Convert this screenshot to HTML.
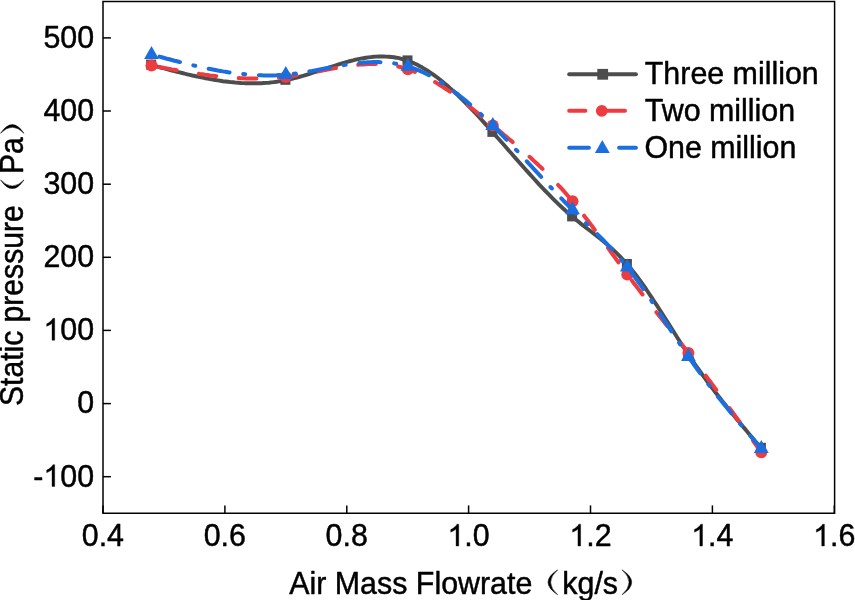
<!DOCTYPE html>
<html><head><meta charset="utf-8"><title>chart</title>
<style>
html,body{margin:0;padding:0;background:#fff;}
body{width:855px;height:600px;overflow:hidden;}
svg{display:block;}
text{font-family:"Liberation Sans",sans-serif;font-size:30.4px;fill:#000;stroke:#000;stroke-width:0.45px;stroke-linejoin:round;}
svg{will-change:transform;}
</style></head><body>
<svg width="855" height="600" viewBox="0 0 855 600">
<rect width="855" height="600" fill="#fff"/>
<!-- frame -->
<rect x="103.0" y="1.5" width="731.5999999999999" height="511.75" fill="none" stroke="#000" stroke-width="1.5"/>
<g stroke="#000" stroke-width="1.5"><line x1="103.0" y1="513.2" x2="103.0" y2="505.4"/><line x1="224.9" y1="513.2" x2="224.9" y2="505.4"/><line x1="346.8" y1="513.2" x2="346.8" y2="505.4"/><line x1="468.6" y1="513.2" x2="468.6" y2="505.4"/><line x1="590.5" y1="513.2" x2="590.5" y2="505.4"/><line x1="712.4" y1="513.2" x2="712.4" y2="505.4"/><line x1="834.3" y1="513.2" x2="834.3" y2="505.4"/><line x1="103.0" y1="37.9" x2="110.9" y2="37.9"/><line x1="103.0" y1="111.0" x2="110.9" y2="111.0"/><line x1="103.0" y1="184.2" x2="110.9" y2="184.2"/><line x1="103.0" y1="257.3" x2="110.9" y2="257.3"/><line x1="103.0" y1="330.4" x2="110.9" y2="330.4"/><line x1="103.0" y1="403.6" x2="110.9" y2="403.6"/><line x1="103.0" y1="476.7" x2="110.9" y2="476.7"/></g>
<g><text transform="translate(81.77,546.0) scale(1,1.045)">0.4</text><text transform="translate(203.65,546.0) scale(1,1.045)">0.6</text><text transform="translate(325.54,546.0) scale(1,1.045)">0.8</text><path transform="translate(447.42,546.0) scale(0.01484,-0.01487)" d="M763,0 H583 V1147 Q518,1085 412.5,1023 T223,930 V1104 Q373,1174.5 485.5,1275 T644,1470 H763 Z" fill="#000" stroke="#000" stroke-width="24"/><text transform="translate(464.33,546.0) scale(1,1.045)">.0</text><path transform="translate(569.30,546.0) scale(0.01484,-0.01487)" d="M763,0 H583 V1147 Q518,1085 412.5,1023 T223,930 V1104 Q373,1174.5 485.5,1275 T644,1470 H763 Z" fill="#000" stroke="#000" stroke-width="24"/><text transform="translate(586.21,546.0) scale(1,1.045)">.2</text><path transform="translate(691.19,546.0) scale(0.01484,-0.01487)" d="M763,0 H583 V1147 Q518,1085 412.5,1023 T223,930 V1104 Q373,1174.5 485.5,1275 T644,1470 H763 Z" fill="#000" stroke="#000" stroke-width="24"/><text transform="translate(708.09,546.0) scale(1,1.045)">.4</text><path transform="translate(813.07,546.0) scale(0.01484,-0.01487)" d="M763,0 H583 V1147 Q518,1085 412.5,1023 T223,930 V1104 Q373,1174.5 485.5,1275 T644,1470 H763 Z" fill="#000" stroke="#000" stroke-width="24"/><text transform="translate(829.98,546.0) scale(1,1.045)">.6</text><text transform="translate(43.38,47.7) scale(1,1.045)">500</text><text transform="translate(43.38,120.8) scale(1,1.045)">400</text><text transform="translate(43.38,194.0) scale(1,1.045)">300</text><text transform="translate(43.38,267.1) scale(1,1.045)">200</text><path transform="translate(43.38,340.2) scale(0.01484,-0.01487)" d="M763,0 H583 V1147 Q518,1085 412.5,1023 T223,930 V1104 Q373,1174.5 485.5,1275 T644,1470 H763 Z" fill="#000" stroke="#000" stroke-width="24"/><text transform="translate(60.29,340.2) scale(1,1.045)">00</text><text transform="translate(77.19,413.4) scale(1,1.045)">0</text><text transform="translate(33.26,486.5) scale(1,1.045)">-</text><path transform="translate(43.38,486.5) scale(0.01484,-0.01487)" d="M763,0 H583 V1147 Q518,1085 412.5,1023 T223,930 V1104 Q373,1174.5 485.5,1275 T644,1470 H763 Z" fill="#000" stroke="#000" stroke-width="24"/><text transform="translate(60.29,486.5) scale(1,1.045)">00</text></g>
<!-- series -->
<g fill="none" stroke-width="3.9" stroke-linecap="round" stroke-linejoin="round">
<path d="M151.5,65.0 L154.1,65.7 L156.6,66.4 L159.2,67.1 L161.7,67.8 L164.3,68.4 L166.8,69.1 L169.4,69.8 L171.9,70.5 L174.5,71.1 L177.0,71.8 L179.6,72.4 L182.1,73.0 L184.7,73.7 L187.2,74.3 L189.8,74.9 L192.3,75.5 L194.9,76.0 L197.4,76.6 L200.0,77.1 L202.5,77.7 L205.1,78.2 L207.6,78.6 L210.2,79.1 L212.7,79.6 L215.3,80.0 L217.8,80.4 L220.4,80.8 L222.9,81.2 L225.5,81.5 L228.0,81.8 L230.6,82.1 L233.1,82.3 L235.7,82.6 L238.2,82.8 L240.8,83.0 L243.4,83.1 L245.9,83.2 L248.5,83.3 L251.0,83.3 L253.6,83.3 L256.1,83.3 L258.7,83.3 L261.2,83.2 L263.8,83.0 L266.3,82.9 L268.9,82.7 L271.4,82.4 L274.0,82.1 L276.5,81.8 L279.1,81.4 L281.6,81.0 L284.2,80.5 L286.7,80.0 L289.3,79.5 L291.8,78.9 L294.4,78.2 L296.9,77.6 L299.5,76.9 L302.0,76.1 L304.6,75.4 L307.1,74.6 L309.7,73.8 L312.2,73.0 L314.8,72.2 L317.3,71.3 L319.9,70.5 L322.4,69.6 L325.0,68.8 L327.6,68.0 L330.1,67.1 L332.7,66.3 L335.2,65.5 L337.8,64.7 L340.3,63.9 L342.9,63.1 L345.4,62.4 L348.0,61.7 L350.5,61.0 L353.1,60.4 L355.6,59.7 L358.2,59.2 L360.7,58.7 L363.3,58.2 L365.8,57.8 L368.4,57.4 L370.9,57.1 L373.5,56.8 L376.0,56.6 L378.6,56.5 L381.1,56.4 L383.7,56.5 L386.2,56.6 L388.8,56.7 L391.3,57.0 L393.9,57.3 L396.4,57.7 L399.0,58.2 L401.5,58.9 L404.1,59.6 L406.6,60.4 L409.2,61.3 L411.7,62.3 L414.3,63.4 L416.9,64.6 L419.4,65.9 L422.0,67.3 L424.5,68.8 L427.1,70.4 L429.6,72.1 L432.2,73.8 L434.7,75.6 L437.3,77.5 L439.8,79.5 L442.4,81.6 L444.9,83.7 L447.5,85.8 L450.0,88.1 L452.6,90.4 L455.1,92.7 L457.7,95.1 L460.2,97.6 L462.8,100.1 L465.3,102.7 L467.9,105.3 L470.4,107.9 L473.0,110.6 L475.5,113.3 L478.1,116.0 L480.6,118.8 L483.2,121.6 L485.7,124.4 L488.3,127.2 L490.8,130.1 L493.4,133.0 L495.9,135.9 L498.5,138.8 L501.1,141.7 L503.6,144.6 L506.2,147.5 L508.7,150.4 L511.3,153.3 L513.8,156.2 L516.4,159.1 L518.9,162.0 L521.5,164.9 L524.0,167.7 L526.6,170.6 L529.1,173.4 L531.7,176.3 L534.2,179.0 L536.8,181.8 L539.3,184.6 L541.9,187.3 L544.4,190.0 L547.0,192.6 L549.5,195.2 L552.1,197.8 L554.6,200.3 L557.2,202.8 L559.7,205.3 L562.3,207.7 L564.8,210.0 L567.4,212.4 L569.9,214.6 L572.5,216.8 L575.0,218.9 L577.6,221.0 L580.1,223.1 L582.7,225.1 L585.2,227.1 L587.8,229.0 L590.4,231.0 L592.9,233.0 L595.5,235.0 L598.0,237.0 L600.6,239.0 L603.1,241.1 L605.7,243.2 L608.2,245.4 L610.8,247.7 L613.3,250.0 L615.9,252.4 L618.4,254.9 L621.0,257.5 L623.5,260.2 L626.1,263.0 L628.6,265.9 L631.2,269.0 L633.7,272.2 L636.3,275.5 L638.8,278.9 L641.4,282.5 L643.9,286.0 L646.5,289.7 L649.0,293.5 L651.6,297.3 L654.1,301.2 L656.7,305.1 L659.2,309.0 L661.8,313.0 L664.3,317.0 L666.9,321.1 L669.4,325.1 L672.0,329.1 L674.6,333.2 L677.1,337.2 L679.7,341.2 L682.2,345.2 L684.8,349.1 L687.3,353.0 L689.9,356.8 L692.4,360.5 L695.0,364.3 L697.5,367.9 L700.1,371.5 L702.6,375.1 L705.2,378.6 L707.7,382.1 L710.3,385.5 L712.8,388.9 L715.4,392.2 L717.9,395.5 L720.5,398.8 L723.0,402.1 L725.6,405.3 L728.1,408.5 L730.7,411.6 L733.2,414.8 L735.8,417.9 L738.3,421.0 L740.9,424.0 L743.4,427.1 L746.0,430.1 L748.5,433.2 L751.1,436.2 L753.6,439.2 L756.2,442.2 L758.7,445.2 L761.3,448.2" stroke="#4d4d4d" stroke-linecap="butt"/>
</g>
<rect x="146.1" y="59.6" width="10" height="10" fill="#4d4d4d"/><rect x="280.4" y="74.8" width="10" height="10" fill="#4d4d4d"/><rect x="402.5" y="55.4" width="10" height="10" fill="#4d4d4d"/><rect x="487.4" y="126.9" width="10" height="10" fill="#4d4d4d"/><rect x="567.1" y="211.4" width="10" height="10" fill="#4d4d4d"/><rect x="621.9" y="259.0" width="10" height="10" fill="#4d4d4d"/><rect x="683.0" y="349.2" width="10" height="10" fill="#4d4d4d"/><rect x="755.9" y="442.8" width="10" height="10" fill="#4d4d4d"/>
<g fill="none" stroke-width="4">
<path d="M151.5,65.6 L154.1,66.1 L156.6,66.5 L159.2,67.0 L161.7,67.5 L164.3,68.0 L166.8,68.4 L169.4,68.9 L171.9,69.4 L174.5,69.8 L177.0,70.3 L179.6,70.7 L182.1,71.1 L184.7,71.6 L187.2,72.0 L189.8,72.4 L192.3,72.8 L194.9,73.2 L197.4,73.6 L200.0,74.0 L202.5,74.3 L205.1,74.7 L207.6,75.0 L210.2,75.4 L212.7,75.7 L215.3,76.0 L217.8,76.3 L220.4,76.6 L222.9,76.8 L225.5,77.1 L228.0,77.3 L230.6,77.5 L233.1,77.7 L235.7,77.9 L238.2,78.1 L240.8,78.2 L243.4,78.3 L245.9,78.4 L248.5,78.5 L251.0,78.5 L253.6,78.6 L256.1,78.6 L258.7,78.6 L261.2,78.6 L263.8,78.5 L266.3,78.4 L268.9,78.3 L271.4,78.2 L274.0,78.0 L276.5,77.8 L279.1,77.6 L281.6,77.4 L284.2,77.1 L286.7,76.8 L289.3,76.5 L291.8,76.1 L294.4,75.7 L296.9,75.3 L299.5,74.9 L302.0,74.5 L304.6,74.0 L307.1,73.5 L309.7,73.0 L312.2,72.6 L314.8,72.1 L317.3,71.6 L319.9,71.1 L322.4,70.6 L325.0,70.1 L327.6,69.6 L330.1,69.1 L332.7,68.6 L335.2,68.1 L337.8,67.7 L340.3,67.2 L342.9,66.8 L345.4,66.4 L348.0,66.0 L350.5,65.7 L353.1,65.4 L355.6,65.1 L358.2,64.8 L360.7,64.6 L363.3,64.4 L365.8,64.2 L368.4,64.1 L370.9,64.1 L373.5,64.0 L376.0,64.0 L378.6,64.1 L381.1,64.2 L383.7,64.4 L386.2,64.6 L388.8,64.9 L391.3,65.3 L393.9,65.7 L396.4,66.2 L399.0,66.7 L401.5,67.3 L404.1,68.0 L406.6,68.8 L409.2,69.6 L411.7,70.6 L414.3,71.5 L416.9,72.6 L419.4,73.7 L422.0,74.9 L424.5,76.2 L427.1,77.5 L429.6,78.9 L432.2,80.3 L434.7,81.8 L437.3,83.4 L439.8,85.0 L442.4,86.6 L444.9,88.3 L447.5,90.0 L450.0,91.8 L452.6,93.6 L455.1,95.5 L457.7,97.4 L460.2,99.3 L462.8,101.2 L465.3,103.2 L467.9,105.2 L470.4,107.2 L473.0,109.3 L475.5,111.3 L478.1,113.4 L480.6,115.5 L483.2,117.6 L485.7,119.7 L488.3,121.8 L490.8,123.9 L493.4,126.0 L495.9,128.1 L498.5,130.2 L501.1,132.3 L503.6,134.5 L506.2,136.6 L508.7,138.7 L511.3,140.9 L513.8,143.0 L516.4,145.2 L518.9,147.4 L521.5,149.6 L524.0,151.9 L526.6,154.1 L529.1,156.4 L531.7,158.7 L534.2,161.1 L536.8,163.5 L539.3,165.9 L541.9,168.3 L544.4,170.8 L547.0,173.3 L549.5,175.9 L552.1,178.5 L554.6,181.1 L557.2,183.9 L559.7,186.6 L562.3,189.4 L564.8,192.3 L567.4,195.2 L569.9,198.2 L572.5,201.2 L575.0,204.3 L577.6,207.4 L580.1,210.6 L582.7,213.9 L585.2,217.2 L587.8,220.5 L590.4,223.9 L592.9,227.3 L595.5,230.8 L598.0,234.2 L600.6,237.7 L603.1,241.2 L605.7,244.7 L608.2,248.2 L610.8,251.8 L613.3,255.3 L615.9,258.8 L618.4,262.3 L621.0,265.8 L623.5,269.3 L626.1,272.7 L628.6,276.2 L631.2,279.6 L633.7,283.0 L636.3,286.3 L638.8,289.6 L641.4,293.0 L643.9,296.3 L646.5,299.5 L649.0,302.8 L651.6,306.1 L654.1,309.3 L656.7,312.5 L659.2,315.8 L661.8,319.0 L664.3,322.2 L666.9,325.5 L669.4,328.7 L672.0,331.9 L674.6,335.2 L677.1,338.4 L679.7,341.7 L682.2,344.9 L684.8,348.2 L687.3,351.5 L689.9,354.8 L692.4,358.1 L695.0,361.5 L697.5,364.8 L700.1,368.2 L702.6,371.6 L705.2,375.0 L707.7,378.4 L710.3,381.8 L712.8,385.3 L715.4,388.7 L717.9,392.2 L720.5,395.7 L723.0,399.2 L725.6,402.7 L728.1,406.2 L730.7,409.7 L733.2,413.2 L735.8,416.7 L738.3,420.2 L740.9,423.8 L743.4,427.3 L746.0,430.9 L748.5,434.4 L751.1,438.0 L753.6,441.5 L756.2,445.1 L758.7,448.6 L761.3,452.2" stroke="#ee3b40" stroke-dasharray="17.7,22.5" stroke-dashoffset="-7.8" stroke-linecap="round"/>
</g>
<circle cx="151.5" cy="65.6" r="6.0" fill="#ee3b40"/><circle cx="285.8" cy="76.9" r="6.0" fill="#ee3b40"/><circle cx="407.9" cy="69.2" r="6.0" fill="#ee3b40"/><circle cx="492.8" cy="125.5" r="6.0" fill="#ee3b40"/><circle cx="572.5" cy="201.2" r="6.0" fill="#ee3b40"/><circle cx="627.3" cy="274.4" r="6.0" fill="#ee3b40"/><circle cx="688.4" cy="352.9" r="6.0" fill="#ee3b40"/><circle cx="761.3" cy="452.2" r="6.0" fill="#ee3b40"/>
<g fill="none" stroke-width="4">
<path d="M151.5,54.6 L154.1,55.3 L156.6,55.9 L159.2,56.6 L161.7,57.3 L164.3,58.0 L166.8,58.7 L169.4,59.3 L171.9,60.0 L174.5,60.7 L177.0,61.3 L179.6,62.0 L182.1,62.6 L184.7,63.2 L187.2,63.9 L189.8,64.5 L192.3,65.1 L194.9,65.7 L197.4,66.3 L200.0,66.8 L202.5,67.4 L205.1,68.0 L207.6,68.5 L210.2,69.0 L212.7,69.5 L215.3,70.0 L217.8,70.5 L220.4,70.9 L222.9,71.4 L225.5,71.8 L228.0,72.2 L230.6,72.6 L233.1,72.9 L235.7,73.3 L238.2,73.6 L240.8,73.9 L243.4,74.1 L245.9,74.4 L248.5,74.6 L251.0,74.8 L253.6,75.0 L256.1,75.1 L258.7,75.2 L261.2,75.3 L263.8,75.4 L266.3,75.4 L268.9,75.4 L271.4,75.4 L274.0,75.4 L276.5,75.3 L279.1,75.1 L281.6,75.0 L284.2,74.8 L286.7,74.6 L289.3,74.3 L291.8,74.0 L294.4,73.7 L296.9,73.4 L299.5,73.0 L302.0,72.6 L304.6,72.2 L307.1,71.8 L309.7,71.3 L312.2,70.9 L314.8,70.4 L317.3,70.0 L319.9,69.5 L322.4,69.0 L325.0,68.5 L327.6,68.0 L330.1,67.5 L332.7,67.1 L335.2,66.6 L337.8,66.1 L340.3,65.7 L342.9,65.3 L345.4,64.8 L348.0,64.5 L350.5,64.1 L353.1,63.7 L355.6,63.4 L358.2,63.1 L360.7,62.9 L363.3,62.6 L365.8,62.4 L368.4,62.3 L370.9,62.2 L373.5,62.1 L376.0,62.1 L378.6,62.1 L381.1,62.2 L383.7,62.3 L386.2,62.5 L388.8,62.7 L391.3,63.0 L393.9,63.3 L396.4,63.8 L399.0,64.2 L401.5,64.8 L404.1,65.4 L406.6,66.1 L409.2,66.9 L411.7,67.7 L414.3,68.6 L416.9,69.6 L419.4,70.7 L422.0,71.8 L424.5,73.0 L427.1,74.3 L429.6,75.6 L432.2,77.0 L434.7,78.5 L437.3,80.0 L439.8,81.6 L442.4,83.2 L444.9,84.9 L447.5,86.7 L450.0,88.5 L452.6,90.3 L455.1,92.3 L457.7,94.2 L460.2,96.2 L462.8,98.3 L465.3,100.4 L467.9,102.6 L470.4,104.8 L473.0,107.0 L475.5,109.3 L478.1,111.6 L480.6,114.0 L483.2,116.3 L485.7,118.8 L488.3,121.2 L490.8,123.7 L493.4,126.3 L495.9,128.8 L498.5,131.4 L501.1,134.0 L503.6,136.6 L506.2,139.3 L508.7,142.0 L511.3,144.7 L513.8,147.4 L516.4,150.1 L518.9,152.8 L521.5,155.6 L524.0,158.3 L526.6,161.1 L529.1,163.9 L531.7,166.6 L534.2,169.4 L536.8,172.2 L539.3,174.9 L541.9,177.7 L544.4,180.5 L547.0,183.2 L549.5,186.0 L552.1,188.7 L554.6,191.4 L557.2,194.1 L559.7,196.8 L562.3,199.4 L564.8,202.1 L567.4,204.7 L569.9,207.3 L572.5,209.9 L575.0,212.4 L577.6,214.9 L580.1,217.4 L582.7,219.9 L585.2,222.4 L587.8,224.8 L590.4,227.3 L592.9,229.8 L595.5,232.3 L598.0,234.8 L600.6,237.4 L603.1,240.0 L605.7,242.6 L608.2,245.3 L610.8,248.0 L613.3,250.8 L615.9,253.6 L618.4,256.5 L621.0,259.5 L623.5,262.5 L626.1,265.6 L628.6,268.8 L631.2,272.1 L633.7,275.5 L636.3,279.0 L638.8,282.5 L641.4,286.1 L643.9,289.8 L646.5,293.5 L649.0,297.2 L651.6,301.0 L654.1,304.8 L656.7,308.7 L659.2,312.6 L661.8,316.5 L664.3,320.4 L666.9,324.3 L669.4,328.2 L672.0,332.1 L674.6,336.0 L677.1,339.9 L679.7,343.7 L682.2,347.6 L684.8,351.3 L687.3,355.1 L689.9,358.8 L692.4,362.4 L695.0,366.0 L697.5,369.6 L700.1,373.1 L702.6,376.5 L705.2,380.0 L707.7,383.4 L710.3,386.7 L712.8,390.0 L715.4,393.3 L717.9,396.6 L720.5,399.8 L723.0,403.0 L725.6,406.1 L728.1,409.3 L730.7,412.4 L733.2,415.5 L735.8,418.6 L738.3,421.6 L740.9,424.7 L743.4,427.7 L746.0,430.7 L748.5,433.7 L751.1,436.7 L753.6,439.7 L756.2,442.7 L758.7,445.7 L761.3,448.7" stroke="#1a6ee0" stroke-dasharray="21.2,13.75,2,13.75" stroke-dashoffset="-8.2" stroke-linecap="round"/>
</g>
<polygon points="151.5,45.9 144.1,58.9 158.9,58.9" fill="#1a6ee0"/><polygon points="285.8,66.0 278.4,79.0 293.2,79.0" fill="#1a6ee0"/><polygon points="407.9,57.8 400.5,70.8 415.3,70.8" fill="#1a6ee0"/><polygon points="492.8,117.0 485.4,130.0 500.2,130.0" fill="#1a6ee0"/><polygon points="572.5,201.2 565.1,214.2 579.9,214.2" fill="#1a6ee0"/><polygon points="627.3,258.5 619.9,271.5 634.7,271.5" fill="#1a6ee0"/><polygon points="688.4,348.0 681.0,361.0 695.8,361.0" fill="#1a6ee0"/><polygon points="761.3,440.0 753.9,453.0 768.7,453.0" fill="#1a6ee0"/>
<!-- legend -->
<line x1="569.2" y1="74.2" x2="635.9" y2="74.2" stroke="#4d4d4d" stroke-width="4" stroke-linecap="round"/>
<rect x="597.3" y="68.9" width="10.8" height="10.8" fill="#4d4d4d"/>
<line x1="569.2" y1="110.8" x2="585.4" y2="110.8" stroke="#ee3b40" stroke-width="4" stroke-linecap="round"/>
<line x1="602" y1="110.8" x2="625" y2="110.8" stroke="#ee3b40" stroke-width="4" stroke-linecap="round"/>
<circle cx="601.8" cy="110.8" r="5.9" fill="#ee3b40"/>
<line x1="569.2" y1="147.8" x2="588.9" y2="147.8" stroke="#1a6ee0" stroke-width="4" stroke-linecap="round"/>
<line x1="619.1" y1="147.8" x2="635.9" y2="147.8" stroke="#1a6ee0" stroke-width="4" stroke-linecap="round"/>
<polygon points="602.3,139.9 594.9,152.9 609.7,152.9" fill="#1a6ee0"/>
<text transform="translate(644.8,84.4) scale(1,1.045)" text-anchor="start">Three million</text>
<text transform="translate(644.8,121.4) scale(1,1.045)" text-anchor="start">Two million</text>
<text transform="translate(644.4,158.4) scale(1,1.045)" text-anchor="start">One million</text>
<!-- axis titles -->
<text transform="translate(289.2,593.8) scale(1,1.045)" text-anchor="start">Air Mass Flowrate</text>
<path d="M557.7,569.8 Q538.3,582.3 557.7,594.8 Q543.5,582.3 557.7,569.8 Z" fill="#000" stroke="#000" stroke-width="0.5" stroke-linejoin="round"/>
<text transform="translate(562.3,593.8) scale(1,1.045)" text-anchor="start">kg/s</text>
<path d="M622.0,569.8 Q641.4,582.3 622.0,594.8 Q636.2,582.3 622.0,569.8 Z" fill="#000" stroke="#000" stroke-width="0.5" stroke-linejoin="round"/>
<g transform="translate(22.6,405) rotate(-90)">
<text transform="translate(-1.0,0.0) scale(1,1.080)" text-anchor="start" style="font-size:30.1px">Static pressure</text>
<path d="M225.1,-22.1 Q207.7,-10.3 225.1,1.4 Q212.9,-10.3 225.1,-22.1 Z" fill="#000" stroke="#000" stroke-width="0.5" stroke-linejoin="round"/>
<text transform="translate(231.0,0.0) scale(1,1.080)" text-anchor="start" style="font-size:30.1px">Pa</text>
<path d="M271.7,-22.1 Q289.1,-10.3 271.7,1.4 Q283.9,-10.3 271.7,-22.1 Z" fill="#000" stroke="#000" stroke-width="0.5" stroke-linejoin="round"/>
</g>
</svg>
</body></html>
